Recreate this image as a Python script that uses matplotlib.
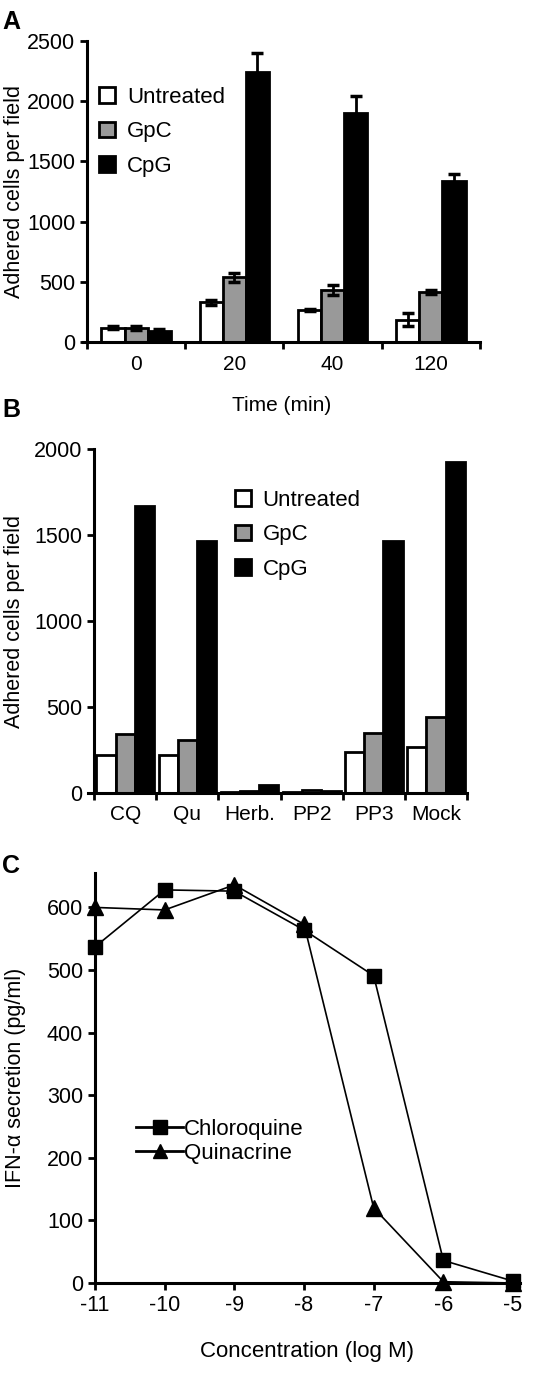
import numpy as np
import matplotlib
matplotlib.use("Agg")
import matplotlib.pyplot as plt
from matplotlib.patches import Patch
from matplotlib.lines import Line2D

plt.rcParams['font.family'] = ['Liberation Sans', 'DejaVu Sans']
plt.rcParams['axes.unicode_minus'] = False

# Panel A data
times = ['0', '20', '40', '120']
a_untreated = [120, 329, 265, 185]
a_untreated_err = [15, 20, 10, 55]
a_gpc = [115, 536, 431, 414]
a_gpc_err = [15, 35, 40, 15]
a_cpg = [95, 2243, 1906, 1337]
a_cpg_err = [10, 160, 140, 55]

# Panel B data
treatments = ['CQ', 'Qu', 'Herb.', 'PP2', 'PP3', 'Mock']
b_untreated = [219, 219, 4, 8, 238, 269]
b_gpc = [343, 306, 10, 15, 349, 442]
b_cpg = [1667, 1467, 45, 12, 1467, 1924]

# Panel C data
conc = [-11, -10, -9, -8, -7, -6, -5]
chloroquine = [537, 628, 626, 564, 491, 36, 3]
quinacrine = [600, 596, 636, 573, 120, 2, 0]

W, H = 550, 1395
fig = plt.figure(figsize=(W / 100, H / 100), dpi=100)

def frac(l, t, r, b):
    return [l / W, 1 - b / H, (r - l) / W, (b - t) / H]

def style(ax):
    for s in ['top', 'right']:
        ax.spines[s].set_visible(False)
    for s in ['left', 'bottom']:
        ax.spines[s].set_linewidth(2.2)
    ax.tick_params(axis='both', width=2, length=5, labelsize=15.5, direction='out')

colors = ['white', '#999999', 'black']
names = ['Untreated', 'GpC', 'CpG']
handles = [Patch(facecolor=c, edgecolor='black', linewidth=2) for c in colors]

# ---- A ----
axA = fig.add_axes(frac(83, 41, 480, 342))
style(axA)
w = 0.235
x = np.arange(len(times)) + 0.5
series = [(a_untreated, a_untreated_err), (a_gpc, a_gpc_err), (a_cpg, a_cpg_err)]
for k, (vals, errs) in enumerate(series):
    axA.bar(x + (k - 1) * w, vals, w, color=colors[k], edgecolor='black', linewidth=2,
            yerr=errs, error_kw=dict(ecolor='black', elinewidth=2, capsize=4, capthick=2.5),
            zorder=2)
axA.set_xlim(-0.04, 4)
axA.spines['left'].set_position(('data', 0))
axA.set_ylim(0, 2500)
axA.set_yticks([0, 500, 1000, 1500, 2000, 2500])
axA.set_xticks(np.arange(0, 5))
axA.set_xticklabels([])
axA.set_xticks(x, minor=True)
axA.set_xticklabels(times, minor=True)
axA.tick_params(axis='x', which='minor', length=0, labelsize=15, pad=9)
axA.set_ylabel('Adhered cells per field', fontsize=15.5)
axA.yaxis.set_label_coords(-0.146, 0.5)
axA.set_xlabel('Time (min)', fontsize=15, labelpad=16)
axA.legend(handles, names, loc='upper left', bbox_to_anchor=(-0.01, 0.914), frameon=False,
           fontsize=16, handlelength=0.7, handleheight=0.7, handletextpad=0.55,
           labelspacing=0.6)
fig.text(2 / W, 1 - 22 / H, 'A', fontsize=18, fontweight='bold', va='center')

# ---- B ----
axB = fig.add_axes(frac(88, 449, 467, 793))
style(axB)
w = 0.31
x = np.arange(len(treatments)) + 0.5
for k, vals in enumerate([b_untreated, b_gpc, b_cpg]):
    axB.bar(x + (k - 1) * w, vals, w, color=colors[k], edgecolor='black', linewidth=2, zorder=2)
axB.set_xlim(-0.1, 6)
axB.spines['left'].set_position(('data', 0))
axB.set_ylim(0, 2000)
axB.set_yticks([0, 500, 1000, 1500, 2000])
axB.set_xticks(np.arange(0, 7))
axB.set_xticklabels([])
axB.set_xticks(x, minor=True)
axB.set_xticklabels(treatments, minor=True)
axB.tick_params(axis='x', which='minor', length=0, labelsize=15, pad=9)
axB.set_ylabel('Adhered cells per field', fontsize=15.5)
axB.yaxis.set_label_coords(-0.166, 0.5)
axB.legend(handles, names, loc='upper left', bbox_to_anchor=(0.335, 0.939), frameon=False,
           fontsize=16, handlelength=0.7, handleheight=0.7, handletextpad=0.55,
           labelspacing=0.6)
fig.text(2 / W, 1 - 410 / H, 'B', fontsize=18, fontweight='bold', va='center')

# ---- C ----
axC = fig.add_axes(frac(95, 873, 520, 1283))
style(axC)
axC.plot(conc, chloroquine, color='black', linewidth=1.2, marker='s', markersize=10.5,
         clip_on=False, zorder=3, label='Chloroquine')
axC.plot(conc, quinacrine, color='black', linewidth=1.2, marker='^', markersize=11,
         clip_on=False, zorder=3, label='Quinacrine')
axC.set_xlim(-11, -4.9)
axC.set_ylim(0, 655)
axC.set_xticks(conc)
axC.set_yticks(range(0, 700, 100))
axC.tick_params(axis='both', labelsize=15.5)
axC.set_ylabel('IFN-\u03b1 secretion (pg/ml)', fontsize=15.5)
axC.yaxis.set_label_coords(-0.162, 0.5)
axC.set_xlabel('Concentration (log M)', fontsize=16, labelpad=18)
lh = [Line2D([], [], color='black', linewidth=2, marker='s', markersize=9.5),
      Line2D([], [], color='black', linewidth=2, marker='^', markersize=10)]
axC.legend(lh, ['Chloroquine', 'Quinacrine'], loc='upper left', bbox_to_anchor=(0.05, 0.449),
           frameon=False, fontsize=16, handlelength=2.1, handletextpad=0.05,
           labelspacing=0.15)
fig.text(2 / W, 1 - 866 / H, 'C', fontsize=18, fontweight='bold', va='center')

fig.savefig('out.png', dpi=100)
